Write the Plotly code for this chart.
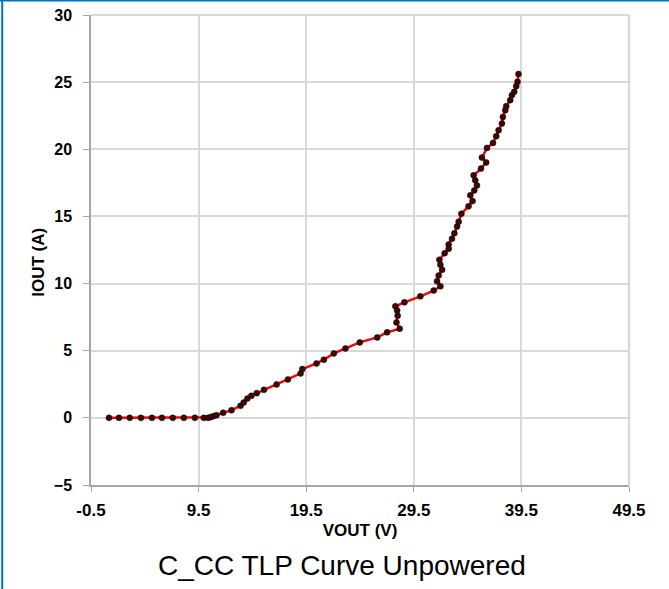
import plotly.graph_objects as go

vout = [1.17, 2.1, 3.1, 4.14, 5.16, 6.09, 7.1, 8.13, 9.15, 9.98, 10.38, 10.6, 10.85, 11.16,
        11.78, 12.56, 13.4, 13.69, 14.04, 14.41, 14.9, 15.58, 16.75, 17.8, 18.98, 19.14,
        20.46, 21.14, 22.07, 23.15, 24.48, 26.1, 27.02, 28.19, 27.89, 28.0, 27.95, 27.79,
        28.63, 30.11, 31.35, 31.97, 31.66, 31.81, 32.13, 31.97, 31.88, 32.37, 32.74, 32.74,
        33.05, 33.27, 33.52, 33.67, 33.92, 34.59, 34.96, 34.75, 35.12, 35.37, 35.21, 35.06,
        35.74, 36.23, 35.83, 36.3, 36.86, 37.16, 37.38, 37.69, 37.78, 38.0, 38.09, 38.46,
        38.62, 38.83, 39.02, 39.14, 39.23]
iout = [0.0, 0.0, 0.0, 0.0, 0.0, 0.0, 0.0, 0.0, 0.0, 0.0, 0.0, 0.05, 0.12, 0.2,
        0.38, 0.57, 0.9, 1.14, 1.44, 1.64, 1.84, 2.09, 2.49, 2.86, 3.31, 3.63,
        4.05, 4.33, 4.8, 5.17, 5.62, 5.99, 6.37, 6.64, 7.11, 7.61, 7.99, 8.31,
        8.6, 9.05, 9.48, 9.8, 10.17, 10.6, 11.02, 11.4, 11.77, 12.26, 12.59, 12.91,
        13.34, 13.75, 14.25, 14.6, 15.2, 15.75, 16.14, 16.57, 16.94, 17.31, 17.69, 18.06,
        18.56, 19.02, 19.38, 20.1, 20.47, 20.97, 21.42, 21.92, 22.41, 22.91, 23.21, 23.66,
        24.03, 24.28, 24.7, 25.02, 25.6]

x_ticks = [-0.5, 9.5, 19.5, 29.5, 39.5, 49.5]
y_ticks = [-5, 0, 5, 10, 15, 20, 25, 30]

FONT = "Liberation Sans, Arial, sans-serif"

fig = go.Figure()
fig.add_trace(go.Scatter(
    x=vout, y=iout, mode="lines+markers",
    line=dict(color="#ff0000", width=2.5),
    marker=dict(color="#3a0a0a", size=6, line=dict(color="#1a0000", width=0.5)),
    showlegend=False, hoverinfo="x+y",
))

grid = "#d9d9d9"
axis_col = "#a6a6a6"
fig.update_layout(
    width=669, height=589,
    margin=dict(l=91, r=40, t=15, b=104),
    paper_bgcolor="white", plot_bgcolor="white",
    font=dict(family=FONT, color="black"),
    xaxis=dict(
        range=[-0.5, 49.5], tickvals=x_ticks, ticktext=[str(v) for v in x_ticks],
        showgrid=True, gridcolor=grid, gridwidth=1.5,
        showline=True, linecolor=axis_col, linewidth=1.5,
        ticks="outside", ticklen=5, tickcolor=axis_col,
        tickfont=dict(size=17, family=FONT, weight="bold"),
        ticklabelstandoff=4,
        title=dict(text="VOUT (V)", font=dict(size=17, family=FONT, weight="bold"), standoff=5),
        zeroline=False, automargin=False,
    ),
    yaxis=dict(
        range=[-5, 30], tickvals=y_ticks,
        showgrid=True, gridcolor=grid, gridwidth=1.5,
        showline=True, linecolor=axis_col, linewidth=1.5,
        ticks="outside", ticklen=6, tickcolor=axis_col,
        tickfont=dict(size=16, family=FONT, weight="bold"),
        ticklabelstandoff=8,
        zeroline=False, automargin=False,
    ),
    annotations=[
        dict(text="C_CC TLP Curve Unpowered", xref="paper", yref="paper",
             x=0.466, y=-0.172, xanchor="center", yanchor="middle", showarrow=False,
             font=dict(size=28, family=FONT, color="black")),
        dict(text="IOUT (A)", xref="paper", yref="paper", textangle=-90,
             x=-0.0967, y=0.475, xanchor="center", yanchor="middle", showarrow=False,
             font=dict(size=17, family=FONT, color="black", weight="bold")),
    ],
    shapes=[
        dict(type="line", xref="paper", yref="paper", x0=1, x1=1, y0=0, y1=1,
             line=dict(color=grid, width=2.5)),
        dict(type="line", xref="paper", yref="paper", x0=0, x1=1, y0=1, y1=1,
             line=dict(color=grid, width=2)),
        dict(type="line", xref="paper", yref="paper", x0=-0.165, x1=-0.165, y0=-0.3, y1=1.04,
             line=dict(color="#0070c0", width=2)),
        dict(type="line", xref="paper", yref="paper", x0=-0.2, x1=1.1, y0=1.031, y1=1.031,
             line=dict(color="#0070c0", width=2)),
    ],
)

fig.write_html("out.html")
